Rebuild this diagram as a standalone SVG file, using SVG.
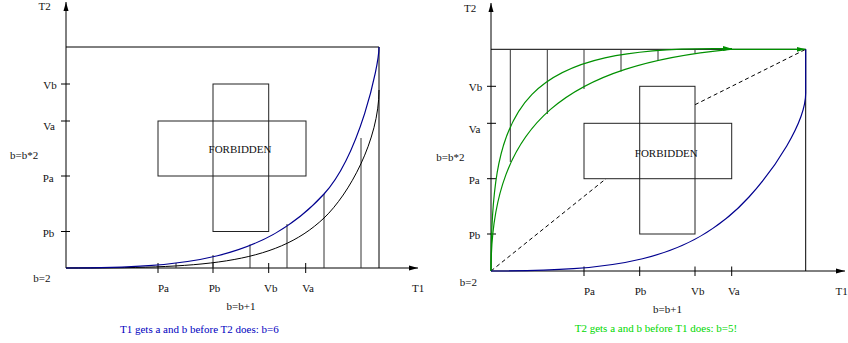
<svg xmlns="http://www.w3.org/2000/svg" width="848" height="343" viewBox="0 0 848 343">
<style>
.ln{stroke:#000;stroke-width:1;fill:none}
.gl{stroke:#333;stroke-width:1;fill:none}
.bx{stroke:#222;stroke-width:1;fill:#fff}
.bl{stroke:#00008f;stroke-width:1.2;fill:none}
.gr{stroke:#009000;stroke-width:1.2;fill:none}
.ds{stroke:#000;stroke-width:1;fill:none;stroke-dasharray:4 3}
text{font-family:"Liberation Serif","Times New Roman",serif;font-size:11px;fill:#111}
.m{text-anchor:middle}
.e{text-anchor:end}
.tb{fill:#0000c0}
.tg{fill:#00d800}
</style>
<defs>
<marker id="ax" markerUnits="userSpaceOnUse" markerWidth="10" markerHeight="8" refX="9" refY="4" orient="auto">
<path d="M0,1.5 L9,4 L0,6.5 Z" fill="#000"/>
</marker>
<marker id="ga" markerUnits="userSpaceOnUse" markerWidth="10" markerHeight="8" refX="9" refY="4" orient="auto">
<path d="M0,1.5 L9,4 L0,6.5 Z" fill="#009000"/>
</marker>
</defs>

<g id="left-panel">
<g id="left-axes">
<line class="ln" x1="66" y1="268" x2="66" y2="2" marker-end="url(#ax)"/>
<line class="ln" x1="66" y1="268" x2="418" y2="268" marker-end="url(#ax)"/>
<line class="ln" x1="66" y1="47" x2="379" y2="47"/>
<line class="ln" x1="379" y1="47" x2="379" y2="268"/>
<path class="ln" d="M61,84H70M61,121H70M61,176H70M61,231.5H70"/>
<path class="ln" d="M158,263V273M213,263V273M268.7,263V273M305.7,263V273"/>
</g>
<g id="left-steps">
<path class="gl" d="M176,263V268M213,255V268M250,244.5V268M287,224V268M324,194V268M361,138V268"/>
</g>
<g id="left-forbidden">
<rect class="bx" x="158" y="121" width="148" height="55"/>
<rect x="213" y="84" width="55.7" height="147.5" fill="none" stroke="#222"/>
<text class="m" x="240" y="153.3">FORBIDDEN</text>
</g>
<g id="left-curves">
<path class="ln" d="M66,268 C200,268 274,265.5 324,218 C349,194.3 379,140 379,90"/>
<path class="bl" d="M66,268 C186,268 264,260 324,194 C359,155.5 379,67 379,47"/>
</g>
<g id="left-labels">
<text x="38.5" y="10">T2</text>
<text x="43.3" y="88.5">Vb</text>
<text x="43.3" y="130">Va</text>
<text x="10" y="158.5">b=b*2</text>
<text x="42.7" y="181.5">Pa</text>
<text x="42.7" y="236.5">Pb</text>
<text x="33.3" y="281.5">b=2</text>
<text class="m" x="163.5" y="291.5">Pa</text>
<text class="m" x="214.5" y="291.5">Pb</text>
<text class="m" x="270.7" y="291.5">Vb</text>
<text class="m" x="308" y="291.5">Va</text>
<text x="412" y="291.5">T1</text>
<text class="m" x="241" y="310">b=b+1</text>
<text class="tb" x="120" y="333">T1 gets a and b before T2 does: b=6</text>
</g>
</g>

<g id="right-panel">
<g id="right-axes">
<line class="ln" x1="491" y1="271" x2="491" y2="3" marker-end="url(#ax)"/>
<line class="ln" x1="491" y1="271" x2="845" y2="271" marker-end="url(#ax)"/>
<line class="ln" x1="491" y1="49.3" x2="805.7" y2="49.3"/>
<line class="ln" x1="805.7" y1="49.3" x2="805.7" y2="271"/>
<path class="ln" d="M487,86.3H496M487,123.3H496M487,178.7H496M487,234H496"/>
<path class="ln" d="M584,266.5V276M639.7,266.5V276M695,266.5V276M731.7,266.5V276"/>
</g>
<g id="right-steps">
<path class="gl" d="M510.3,49.3V162M547.3,49.3V114M584,49.3V89M621,49.3V71.5M658,49.3V61M695,49.3V53"/>
</g>
<g id="right-dashed">
<line class="ds" x1="491" y1="271" x2="606" y2="178.7"/>
<line class="ds" x1="695" y1="104.7" x2="805.7" y2="49.3"/>
</g>
<g id="right-forbidden">
<rect class="bx" x="584" y="123.3" width="147.7" height="55.4"/>
<rect x="639.7" y="86.3" width="55.3" height="147.7" fill="none" stroke="#222"/>
<text class="m" x="666.3" y="156.5">FORBIDDEN</text>
</g>
<g id="right-curves">
<path class="gr" d="M491,271 C491,100 520,45 732,48.7" marker-end="url(#ga)"/>
<path class="gr" d="M491,271 C491,120 570,65 730,49.3 L805.7,49.3" marker-end="url(#ga)"/>
<path class="bl" d="M491,271 C611,271 689,263 749,197 C774,169.5 805.7,123 805.7,93 L805.7,49.3"/>
</g>
<g id="right-labels">
<text x="464" y="11.7">T2</text>
<text x="468.7" y="91">Vb</text>
<text x="468.7" y="132.7">Va</text>
<text x="436.3" y="160.5">b=b*2</text>
<text x="468.7" y="183.5">Pa</text>
<text x="468.7" y="239.3">Pb</text>
<text x="459.7" y="285.5">b=2</text>
<text class="m" x="589.5" y="294.5">Pa</text>
<text class="m" x="640.5" y="294.5">Pb</text>
<text class="m" x="697.7" y="294.5">Vb</text>
<text class="m" x="733.8" y="294.5">Va</text>
<text x="835.5" y="294.5">T1</text>
<text class="m" x="667.5" y="313">b=b+1</text>
<text class="tg" x="574.7" y="331.5">T2 gets a and b before T1 does: b=5!</text>
</g>
</g>
</svg>
